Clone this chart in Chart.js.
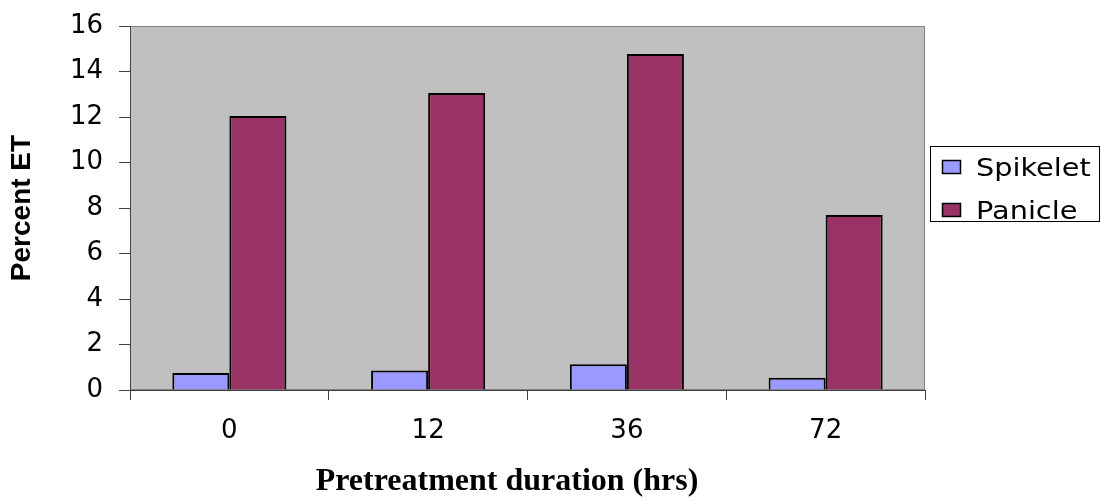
<!DOCTYPE html>
<html>
<head>
<meta charset="utf-8">
<script src="https://cdn.jsdelivr.net/npm/chart.js@4.4.0/dist/chart.umd.min.js"></script>
<style>
  html, body { margin: 0; padding: 0; background: #ffffff; }
  #wrap { width: 1101px; height: 504px; position: relative; }
</style>
</head>
<body>
<div id="wrap"><canvas id="c" width="1101" height="504"></canvas></div>
<script>
const categories = ['0', '12', '36', '72'];
const spikelet = [0.75, 0.86, 1.13, 0.54];
const panicle = [12.04, 13.05, 14.77, 7.69];
const seriesNames = ['Spikelet', 'Panicle'];
const yTitle = 'Percent ET';
const xTitle = 'Pretreatment duration (hrs)';

const colors = ['#9999FF', '#993366'];

const plotBg = {
  id: 'plotBg',
  beforeDraw(chart) {
    const { ctx, chartArea: a } = chart;
    ctx.save();
    ctx.fillStyle = '#C0C0C0';
    ctx.fillRect(a.left, a.top, a.right - a.left, a.bottom - a.top);
    ctx.strokeStyle = '#808080';
    ctx.lineWidth = 1;
    ctx.strokeRect(a.left + 0.5, a.top + 0.5, a.right - a.left - 1, a.bottom - a.top - 1);
    ctx.restore();
  }
};

const extras = {
  id: 'extras',
  afterDraw(chart) {
    const { ctx } = chart;
    ctx.save();
    ctx.fillStyle = '#000';
    ctx.font = 'bold 32px "Liberation Serif", "Times New Roman", serif';
    ctx.textAlign = 'center';
    ctx.textBaseline = 'alphabetic';
    ctx.fillText(xTitle, 507, 490);
    const lx = 930, ly = 146, lw = 170, lh = 76;
    ctx.fillStyle = '#fff';
    ctx.fillRect(lx, ly, lw, lh);
    ctx.strokeStyle = '#000';
    ctx.lineWidth = 1;
    ctx.strokeRect(lx + 0.5, ly + 0.5, lw - 1, lh - 1);
    ctx.font = '25px "DejaVu Sans", sans-serif';
    ctx.textAlign = 'left';
    const baselines = [176, 219];
    chart.data.datasets.forEach((ds, i) => {
      const by = baselines[i];
      ctx.fillStyle = ds.backgroundColor;
      ctx.fillRect(942, by - 16, 19, 14);
      ctx.strokeStyle = '#000';
      ctx.lineWidth = 1.5;
      ctx.strokeRect(942.5, by - 15.5, 18, 13);
      ctx.fillStyle = '#000';
      ctx.save();
      ctx.translate(976, by);
      ctx.scale(1.15, 1);
      ctx.fillText(ds.label, 0, 0);
      ctx.restore();
    });
    ctx.restore();
  }
};

new Chart(document.getElementById('c'), {
  type: 'bar',
  data: {
    labels: categories,
    datasets: [
      { label: seriesNames[0], data: spikelet, backgroundColor: colors[0], borderColor: '#000', borderWidth: 2 },
      { label: seriesNames[1], data: panicle, backgroundColor: colors[1], borderColor: '#000', borderWidth: 2 }
    ]
  },
  options: {
    responsive: false,
    animation: false,
    devicePixelRatio: 1,
    layout: { padding: { left: 0, right: 176, top: 26, bottom: 0 } },
    plugins: {
      legend: { display: false },
      tooltip: { enabled: false }
    },
    datasets: { bar: { categoryPercentage: 0.574, barPercentage: 1.0 } },
    scales: {
      x: {
        offset: true,
        grid: { display: true, drawOnChartArea: false, offset: true, tickLength: 10, color: '#404040', lineWidth: 1 },
        border: { display: true, color: '#404040', width: 1 },
        ticks: { color: '#000', font: { family: '"DejaVu Sans", sans-serif', size: 26 }, padding: 16, maxRotation: 0 },
        afterFit(scale) { scale.height = 114; scale.paddingLeft = 0; scale.paddingRight = 0; }
      },
      y: {
        min: 0, max: 16,
        ticks: { stepSize: 2, color: '#000', font: { family: '"DejaVu Sans", sans-serif', size: 26 }, padding: 16 },
        grid: { display: true, drawOnChartArea: false, tickLength: 11, color: '#404040', lineWidth: 1 },
        border: { display: true, color: '#404040', width: 1 },
        title: { display: true, text: yTitle, color: '#000', font: { family: '"Liberation Sans", Arial, sans-serif', size: 28, weight: 'bold' }, padding: { top: 5, bottom: 0 } },
        afterFit(scale) { scale.width = 130; scale.paddingTop = 0; scale.paddingBottom = 0; }
      }
    }
  },
  plugins: [plotBg, extras]
});
</script>
</body>
</html>
